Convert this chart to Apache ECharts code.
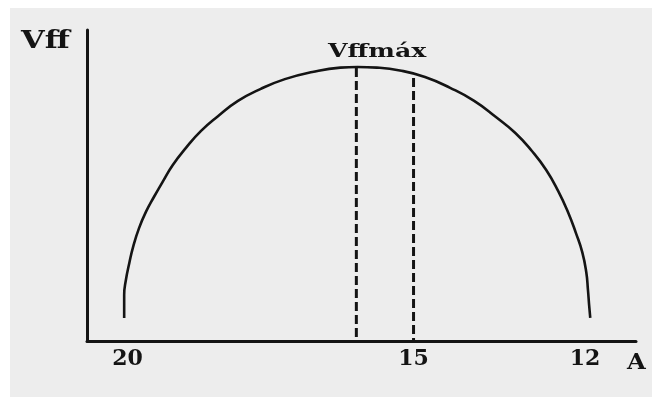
<!DOCTYPE html>
<html>
<head>
<meta charset="utf-8">
<title>Vff - A</title>
<script src="https://cdn.jsdelivr.net/npm/echarts@6/dist/echarts.min.js"></script>
<style>
  html, body { margin: 0; padding: 0; background: #ffffff; }
  #chart { width: 652px; height: 397px; }
</style>
</head>
<body>
<div id="chart"></div>
<script>
// Current (A) along the curve, from 20 A down to 12 A
const ampCurve = [20.06, 20.06, 20.03, 19.97, 19.90, 19.80, 19.68, 19.54, 19.38, 19.21,
                  18.98, 18.72, 18.42, 18.07, 17.68, 17.25, 16.77, 16.28, 15.98, 15.64,
                  15.24, 14.80, 14.36, 13.94, 13.56, 13.22, 12.93, 12.68, 12.47, 12.30,
                  12.16, 12.05, 11.98, 11.95, 11.93, 11.91];
// Vff values along the curve
const vffCurve = [7.4, 14.8, 19.6, 25.1, 30.5, 36.3, 41.5, 46.3, 51.4, 56.6,
                  62.1, 67.5, 72.3, 77.2, 81.0, 84.2, 86.5, 87.9, 88.1, 87.9,
                  87.0, 84.9, 81.4, 77.2, 72.0, 66.9, 61.1, 55.0, 48.2, 41.5,
                  34.7, 28.6, 22.2, 16.4, 11.6, 7.4];
// Vertical reference markers (A) and their top heights (Vff)
const markerAmps = [16, 15];
const markerTops = [87.8, 84.6];
// Tick labels on the current axis
const ampTicks = [20, 15, 12];

const ink = '#141414';
const serif = '"DejaVu Serif", "Liberation Serif", serif';

const curveData = ampCurve.map((a, i) => [a, vffCurve[i]]);
const markerSeries = markerAmps.map((a, i) => ({
  type: 'line',
  data: [[a, markerTops[i]], [a, i === 0 ? 1 : 0]],
  showSymbol: false,
  silent: true,
  lineStyle: { color: ink, width: 3, type: [9, 4] }
}));

const chart = echarts.init(document.getElementById('chart'));
chart.setOption({
  backgroundColor: '#ffffff',
  animation: false,
  graphic: [
    { type: 'rect', z: -10, silent: true,
      shape: { x: 10, y: 8, width: 642, height: 389 },
      style: { fill: '#ededed' } },
    { type: 'text', left: 21, top: 29, scaleX: 1.22, originX: 21,
      style: { text: 'Vff', font: 'bold 25px ' + serif, fill: ink } },
    { type: 'text', left: 328, top: 43, scaleX: 1.4, originX: 328,
      style: { text: 'Vffmáx', font: 'bold 18px ' + serif, fill: ink } },
    { type: 'text', left: 627, top: 352, scaleX: 1.1, originX: 627,
      style: { text: 'A', font: 'bold 22px ' + serif, fill: ink } }
  ],
  grid: { left: 87, right: 16, top: 30, bottom: 56 },
  xAxis: {
    type: 'value',
    inverse: true,
    min: 11.11,
    max: 20.71,
    splitLine: { show: false },
    axisTick: { show: false },
    axisLine: { lineStyle: { color: ink, width: 3 } },
    axisLabel: {
      customValues: ampTicks,
      margin: 7,
      color: ink,
      fontFamily: serif,
      fontWeight: 'bold',
      fontSize: 22
    }
  },
  yAxis: {
    type: 'value',
    min: 0,
    max: 100,
    splitLine: { show: false },
    axisTick: { show: false },
    axisLabel: { show: false },
    axisLine: { show: true, lineStyle: { color: ink, width: 3 } }
  },
  series: [
    {
      type: 'line',
      data: curveData,
      smooth: 0.5,
      showSymbol: false,
      silent: true,
      lineStyle: { color: ink, width: 2.6 }
    },
    ...markerSeries
  ]
});
</script>
</body>
</html>
